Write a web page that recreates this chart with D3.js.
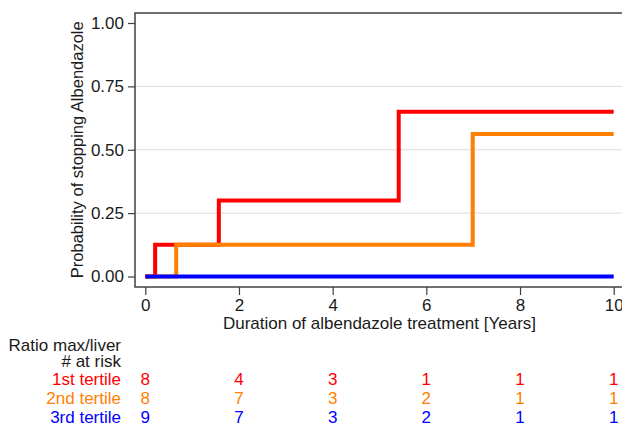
<!DOCTYPE html>
<html><head><meta charset="utf-8">
<script src="https://cdn.jsdelivr.net/npm/d3@7"></script>
<style>body{margin:0;background:#fff}svg{display:block;font-family:"Liberation Sans",Arial,sans-serif}</style>
</head><body><svg id="c" width="622" height="427"></svg>
<script>
const groups = ["1st tertile","2nd tertile","3rd tertile"];
const colors = ["#ff0000","#ff7f00","#0000ff"];
const stepTimes = [
  [0, 0.21, 1.57, 5.41, 10],
  [0, 0.66, 6.99, 10],
  [0, 10]
];
const stepValues = [
  [0, 0.125, 0.30, 0.65, 0.65],
  [0, 0.125, 0.5625, 0.5625],
  [0, 0]
];
const xTicks = [0,2,4,6,8,10];
const yTicks = [0,0.25,0.5,0.75,1];
const atRisk = [
  [8,4,3,1,1,1],
  [8,7,3,2,1,1],
  [9,7,3,2,1,1]
];

const FS = 17;
const svg = d3.select("#c");
const x = d3.scaleLinear().domain([0,10]).range([145.3,613.7]);
const y = d3.scaleLinear().domain([0,1]).range([276.5,23]);
const frame = {l:135, t:13, r:625, b:287};
const axisCol = "#404040";
const txtCol = "#1a1a1a";

// grid
svg.append("g").selectAll("line").data([0.25,0.5,0.75]).join("line")
  .attr("x1",frame.l).attr("x2",frame.r)
  .attr("y1",d=>y(d)).attr("y2",d=>y(d))
  .attr("stroke","#dcdcdc").attr("stroke-width",1);

// curves
const line = d3.line().curve(d3.curveStepAfter).x(d=>x(d[0])).y(d=>y(d[1]));
[0,1,2].forEach(i=>{
  const pts = stepTimes[i].map((t,j)=>[t,stepValues[i][j]]);
  svg.append("path").attr("d",line(pts)).attr("fill","none")
    .attr("stroke",colors[i]).attr("stroke-width",4);
});

// frame
svg.append("rect").attr("x",frame.l).attr("y",frame.t)
  .attr("width",frame.r-frame.l).attr("height",frame.b-frame.t)
  .attr("fill","none").attr("stroke",axisCol).attr("stroke-width",1.5);

// y axis
const ya = svg.append("g").attr("transform",`translate(${frame.l},0)`)
  .call(d3.axisLeft(y).tickValues(yTicks).tickFormat(d3.format(".2f")).tickSize(7).tickPadding(4));
ya.select(".domain").remove();
ya.selectAll(".tick line").attr("stroke",axisCol).attr("stroke-width",1.2);
ya.selectAll(".tick text").attr("font-size",FS).attr("fill",txtCol).attr("font-family","Liberation Sans, Arial, sans-serif");

// x axis
const xa = svg.append("g").attr("transform",`translate(0,${frame.b})`)
  .call(d3.axisBottom(x).tickValues(xTicks).tickSize(8).tickPadding(4));
xa.select(".domain").remove();
xa.selectAll(".tick line").attr("stroke",axisCol).attr("stroke-width",1.2);
xa.selectAll(".tick text").attr("font-size",FS).attr("fill",txtCol).attr("font-family","Liberation Sans, Arial, sans-serif");

// titles
svg.append("text").attr("x",(x(0)+x(10))/2).attr("y",329).attr("text-anchor","middle")
  .attr("font-size",FS).attr("fill",txtCol).text("Duration of albendazole treatment [Years]");
svg.append("text").attr("transform",`translate(82.5,${(y(0)+y(1))/2}) rotate(-90)`)
  .attr("text-anchor","middle").attr("font-size",16.5).attr("fill",txtCol)
  .text("Probability of stopping Albendazole");

// risk table
svg.append("text").attr("x",121).attr("y",351).attr("text-anchor","end")
  .attr("font-size",FS).attr("fill",txtCol).text("Ratio max/liver");
svg.append("text").attr("x",121).attr("y",367).attr("text-anchor","end")
  .attr("font-size",FS).attr("fill",txtCol).text("# at risk");
const rowY = [385,404,422.5];
groups.forEach((g,i)=>{
  svg.append("text").attr("x",121).attr("y",rowY[i]).attr("text-anchor","end")
    .attr("font-size",FS).attr("fill",colors[i]).text(g);
  svg.append("g").selectAll("text").data(atRisk[i]).join("text")
    .attr("x",(d,j)=>x(xTicks[j])).attr("y",rowY[i]).attr("text-anchor","middle")
    .attr("font-size",FS).attr("fill",colors[i]).text(d=>d);
});
</script></body></html>
